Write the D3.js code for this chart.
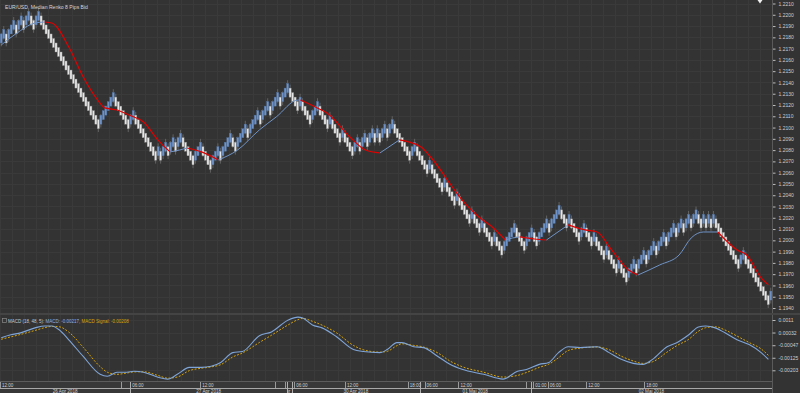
<!DOCTYPE html>
<html>
<head>
<meta charset="utf-8">
<script src="https://cdn.jsdelivr.net/npm/d3@7"></script>
<style>
  body { margin: 0; background: #333; }
  svg { display: block; font-family: "Liberation Sans", Arial, sans-serif; }
</style>
</head>
<body>
<svg id="chart" width="800" height="393"></svg>
<script>
// ---- data ----
const title = 'EUR/USD  Median Renko 8 Pips Bid';
const brickSize = 0.0008;   // 8 pips; each brick opens at the middle of the previous one
const startClose = 1.2179;

// runs of bricks: + up, - down (brick counts)
const runs = [2, -1, 3, -1, 2, -1, 2, -2, 2, -24, 6, -6, 2, -9,
  1, -1, 2, -1, 2, -1, 2, -5, 3, -4, 3, -1, 4, -2, 4, -1, 4, -1,
  3, -1, 3, -1, 3, -4, 1, -4, 3, -4, 1, -4, 1, -4,
  2, -1, 2, -1, 2, -1, 1, -1, 2, -1, 2, -7, 2,
  -5, 1, -5, 1, -4, 1, -5, 1, -3, 1, -4, 1, -3,
  5, -4, 3, -2, 4, -1, 4, -3, 1, -4, 2, -3, 1, -4, 1, -4, 1, -3,
  3, -1, 3, -1, 3, -1, 3, -1, 3, -1, 2, -1, 2, -1, 2,
  -2, 1, -1, 1, -1, 1, -10, 2, -10, 1];

const priceTicks = [1.2210, 1.2200, 1.2190, 1.2180, 1.2170, 1.2160, 1.2150, 1.2140, 1.2130,
  1.2120, 1.2110, 1.2100, 1.2090, 1.2080, 1.2070, 1.2060, 1.2050, 1.2040, 1.2030, 1.2020,
  1.2010, 1.2000, 1.1990, 1.1980, 1.1970, 1.1960, 1.1950, 1.1940];

// moving average on the bricks (slot index, price)
const maIdx = [0, 6, 14, 18, 21, 28, 34, 40, 43, 48, 53, 59, 65, 70, 74, 77, 83, 90, 98, 107,
  114, 123, 124, 131, 135, 145, 151, 157, 165, 174, 178, 187, 191, 198, 204, 209, 212, 215,
  221, 226, 235, 242, 247, 253, 260, 264, 273, 281, 286, 291, 297, 305, 309, 315, 318];
const maVal = [1.21732, 1.21830, 1.21927, 1.21936, 1.21927, 1.21714, 1.21448, 1.21244, 1.21174,
  1.21156, 1.21111, 1.21049, 1.20889, 1.20784, 1.20801, 1.20819, 1.20784, 1.20713, 1.20801,
  1.20979, 1.21094, 1.21244, 1.21244, 1.21174, 1.21129, 1.20907, 1.20801, 1.20775, 1.20890,
  1.20828, 1.20739, 1.20473, 1.20358, 1.20207, 1.20110, 1.20003, 1.20021, 1.20030, 1.20012,
  1.20003, 1.20137, 1.20092, 1.20074, 1.19915, 1.19737, 1.19693, 1.19782, 1.19870, 1.20021,
  1.20074, 1.20074, 1.19915, 1.19870, 1.19667, 1.19605];

// MACD (18, 48, 5)
const macdIdx = [0, 4, 8, 14, 18, 21, 24, 28, 34, 41, 44, 48, 52, 55, 59, 65, 69, 73, 78, 83,
  87, 91, 96, 100, 107, 112, 119, 123, 125, 129, 133, 139, 146, 150, 157, 160, 164, 166, 171,
  175, 181, 186, 191, 200, 208, 214, 218, 223, 227, 231, 235, 240, 247, 252, 257, 262, 266,
  270, 276, 280, 285, 289, 292, 296, 300, 305, 310, 315, 318];
const macdVal = [0.00000, 0.00018, 0.00030, 0.00061, 0.00073, 0.00073, 0.00049, -0.00013,
  -0.00117, -0.00228, -0.00240, -0.00215, -0.00215, -0.00209, -0.00215, -0.00246, -0.00258,
  -0.00228, -0.00185, -0.00185, -0.00178, -0.00154, -0.00093, -0.00086, 0.00012, 0.00036,
  0.00110, 0.00128, 0.00122, 0.00079, 0.00061, 0.00006, -0.00074, -0.00086, -0.00093,
  -0.00074, -0.00031, -0.00031, -0.00056, -0.00062, -0.00117, -0.00166, -0.00197, -0.00228,
  -0.00258, -0.00209, -0.00197, -0.00166, -0.00154, -0.00093, -0.00056, -0.00062, -0.00056,
  -0.00093, -0.00135, -0.00160, -0.00166, -0.00135, -0.00056, -0.00031, 0.00018, 0.00067,
  0.00073, 0.00061, 0.00030, -0.00013, -0.00043, -0.00093, -0.00135];
const signalVal = [-0.00010, 0.00005, 0.00020, 0.00045, 0.00062, 0.00070, 0.00068, 0.00035,
  -0.00060, -0.00180, -0.00215, -0.00228, -0.00220, -0.00213, -0.00212, -0.00235, -0.00252,
  -0.00245, -0.00205, -0.00190, -0.00182, -0.00168, -0.00120, -0.00095, -0.00030, 0.00015,
  0.00080, 0.00112, 0.00120, 0.00102, 0.00078, 0.00030, -0.00048, -0.00075, -0.00090,
  -0.00085, -0.00050, -0.00038, -0.00048, -0.00058, -0.00095, -0.00145, -0.00180, -0.00215,
  -0.00245, -0.00235, -0.00215, -0.00185, -0.00165, -0.00125, -0.00080, -0.00065, -0.00058,
  -0.00075, -0.00115, -0.00145, -0.00160, -0.00150, -0.00090, -0.00050, -0.00010, 0.00040,
  0.00062, 0.00068, 0.00048, 0.00010, -0.00030, -0.00070, -0.00110];
const macdTicks = [0.0011, 0.00032, -0.00047, -0.00125, -0.00203];
const macdTickLabels = ['0.0011', '0.00032', '-0.00047', '-0.00125', '-0.00203'];
const macdLegend = ['MACD (18, 48, 5): ', 'MACD: -0.00217', ', ', 'MACD Signal: -0.00208'];

// time axis (slot index)
const hourTicks = [[0, '12:00'], [50, ''], [54, '06:00'], [83, '12:00'], [114, ''], [118, ''],
  [122, '06:00'], [143, '12:00'], [169, '18:00'], [176, '06:00'], [190, '12:00'], [218, ''],
  [221, '01:00'], [227, '06:00'], [243, '12:00'], [267, '18:00']];
const dayStarts = [0, 54, 119, 121, 174, 220];
const dayLabels = ['26 Apr 2018', '27 Apr 2018', '28 Apr 2018', '30 Apr 2018', '01 Mai 2018', '02 Mai 2018'];
const slots = 320;

// ---- build median renko bricks from the runs ----
const bricks = [];
let prevClose = startClose, prevDir = 1;
runs.forEach(r => {
  const dir = Math.sign(r);
  for (let k = 0; k < Math.abs(r); k++) {
    const open = prevClose - prevDir * brickSize / 2;
    const close = open + dir * brickSize;
    bricks.push({
      dir: dir,
      lo: Math.min(open, close),
      hi: Math.max(open, close),
      first: k === 0,
      last: k === Math.abs(r) - 1
    });
    prevClose = close;
    prevDir = dir;
  }
});

// ---- layout ----
const W = 800, H = 393;
const plotR = 772;
const mainTop = 0, mainBottom = 313;
const macdTop = 315, macdBottom = 381;
const axisFont = 5;

const svg = d3.select('#chart');

svg.append('rect').attr('width', W).attr('height', H).attr('fill', '#333333');

// x runs over brick index; the time/indicator scale has the same span
const x = d3.scaleLinear().domain([0, bricks.length]).range([0, plotR]);
const xt = d3.scaleLinear().domain([0, slots]).range([0, plotR]);
const y = d3.scaleLinear().domain([1.1940, 1.2210]).range([308, 3.5]);
const ym = d3.scaleLinear().domain([-0.00203, 0.0011]).range([370.3, 320]);

const defs = svg.append('defs');
defs.append('clipPath').attr('id', 'clipMain')
  .append('rect').attr('x', 0).attr('y', mainTop).attr('width', plotR).attr('height', mainBottom - mainTop);
defs.append('clipPath').attr('id', 'clipMacd')
  .append('rect').attr('x', 0).attr('y', macdTop).attr('width', plotR).attr('height', macdBottom - macdTop);

// grid
const gridX = d3.range(0, slots, 5);
const grid = svg.append('g').attr('stroke', '#3a3a3a').attr('stroke-width', 1).attr('shape-rendering', 'crispEdges');
grid.selectAll('.gx').data(gridX).join('line')
  .attr('x1', d => Math.round(xt(d)) + 0.5).attr('x2', d => Math.round(xt(d)) + 0.5)
  .attr('y1', mainTop).attr('y2', macdBottom);
grid.selectAll('.gy').data(priceTicks).join('line')
  .attr('x1', 0).attr('x2', plotR)
  .attr('y1', d => Math.round(y(d)) + 0.5).attr('y2', d => Math.round(y(d)) + 0.5);
grid.selectAll('.gm').data(macdTicks).join('line')
  .attr('x1', 0).attr('x2', plotR)
  .attr('y1', d => Math.round(ym(d)) + 0.5).attr('y2', d => Math.round(ym(d)) + 0.5);

// bricks
const main = svg.append('g').attr('clip-path', 'url(#clipMain)');
const pitch = x(1) - x(0);

// wicks at run turns
main.append('g').selectAll('line').data(bricks.map((b, i) => ({ b, i })).filter(d => d.b.first || d.b.last))
  .join('line')
  .attr('x1', d => x(d.i + 0.5)).attr('x2', d => x(d.i + 0.5))
  .attr('y1', d => y(d.b.hi + ((d.b.last && d.b.dir > 0) || (d.b.first && d.b.dir < 0) ? 0.0003 : 0.0001)))
  .attr('y2', d => y(d.b.lo - ((d.b.last && d.b.dir < 0) || (d.b.first && d.b.dir > 0) ? 0.0003 : 0.0001)))
  .attr('stroke', '#6e6e6e').attr('stroke-width', 0.8);

main.append('g').selectAll('rect').data(bricks).join('rect')
  .attr('x', (d, i) => x(i) + 0.2)
  .attr('width', pitch - 0.4)
  .attr('y', d => y(d.hi))
  .attr('height', d => y(d.lo) - y(d.hi))
  .attr('fill', d => d.dir > 0 ? '#6f93c6' : '#e6e6e6')
  .attr('stroke', d => d.dir > 0 ? '#52729f' : '#8c8c8c')
  .attr('stroke-width', 0.4);

// moving average, coloured by direction
const maPts = maIdx.map((d, i) => ({ i: d, v: maVal[i] }));
const segs = [];
for (let k = 0; k < maPts.length - 1; k++) {
  const up = maPts[k + 1].v >= maPts[k].v;
  const last = segs[segs.length - 1];
  if (last && last.up === up) last.pts.push(maPts[k + 1]);
  else segs.push({ up, pts: [maPts[k], maPts[k + 1]] });
}
const maLine = d3.line().x(d => xt(d.i + 0.5)).y(d => y(d.v)).curve(d3.curveMonotoneX);
main.append('g').selectAll('path').data(segs).join('path')
  .attr('d', d => maLine(d.pts))
  .attr('fill', 'none')
  .attr('stroke', d => d.up ? '#6f93c6' : '#e00000')
  .attr('stroke-width', d => d.up ? 1 : 1.2);

// title
svg.append('text').attr('x', 5).attr('y', 8.5).attr('font-size', 5.1).attr('fill', '#d8d8d8')
  .attr('xml:space', 'preserve').text(title);

// price axis
const yAxis = d3.axisRight(y).tickValues(priceTicks).tickFormat(d3.format('.4f')).tickSize(3).tickPadding(3);
const ya = svg.append('g').attr('transform', `translate(${plotR + 0.5},0)`).call(yAxis);
ya.select('.domain').remove();
ya.selectAll('line').attr('stroke', '#bdbdbd');
ya.selectAll('text').attr('fill', '#cfcfcf').attr('font-size', axisFont).attr('font-family', '"Liberation Sans", Arial, sans-serif');

// axis line and panel separators
svg.append('line').attr('x1', plotR + 0.5).attr('x2', plotR + 0.5).attr('y1', 0).attr('y2', H)
  .attr('stroke', '#5a5a5a');
svg.append('rect').attr('x', 0).attr('y', mainBottom).attr('width', W).attr('height', macdTop - mainBottom)
  .attr('fill', '#444');

// marker at top right
svg.append('path').attr('d', 'M757.5,0 L762.5,0 L760,3.5 Z').attr('fill', '#f0f0f0');

// ---- MACD panel ----
const macdG = svg.append('g').attr('clip-path', 'url(#clipMacd)');
const mLine = d3.line().x(d => xt(d.i + 0.5)).y(d => ym(d.v)).curve(d3.curveMonotoneX);
macdG.append('path')
  .attr('d', mLine(macdIdx.map((d, i) => ({ i: d, v: signalVal[i] }))))
  .attr('fill', 'none').attr('stroke', '#d6a40c').attr('stroke-width', 1)
  .attr('stroke-dasharray', '2,1.5');
macdG.append('path')
  .attr('d', mLine(macdIdx.map((d, i) => ({ i: d, v: macdVal[i] }))))
  .attr('fill', 'none').attr('stroke', '#7fa5d8').attr('stroke-width', 1.1);

const ymAxis = d3.axisRight(ym).tickValues(macdTicks).tickFormat((d, i) => macdTickLabels[i]).tickSize(3).tickPadding(3);
const yma = svg.append('g').attr('transform', `translate(${plotR + 0.5},0)`).call(ymAxis);
yma.select('.domain').remove();
yma.selectAll('line').attr('stroke', '#bdbdbd');
yma.selectAll('text').attr('fill', '#cfcfcf').attr('font-size', axisFont).attr('font-family', '"Liberation Sans", Arial, sans-serif');

// legend
svg.append('rect').attr('x', 2.5).attr('y', 318.5).attr('width', 4).attr('height', 4)
  .attr('fill', 'none').attr('stroke', '#8a8a8a').attr('stroke-width', 0.7);
const legColors = ['#c8c8c8', '#8fb0e0', '#c8c8c8', '#d8a40a'];
const leg = svg.append('text').attr('x', 8).attr('y', 322.5).attr('font-size', 4.5).attr('xml:space', 'preserve');
leg.selectAll('tspan').data(macdLegend).join('tspan').attr('fill', (d, i) => legColors[i]).text(d => d);

// ---- time axis ----
const ta = svg.append('g');
ta.append('rect').attr('x', 0).attr('y', macdBottom).attr('width', plotR).attr('height', H - macdBottom).attr('fill', '#383838');
ta.append('line').attr('x1', 0).attr('x2', plotR).attr('y1', macdBottom + 0.5).attr('y2', macdBottom + 0.5).attr('stroke', '#5c5c5c');
ta.append('line').attr('x1', 0).attr('x2', plotR).attr('y1', 388.5).attr('y2', 388.5).attr('stroke', '#a8a8a8');
ta.selectAll('.ht').data(hourTicks).join('line')
  .attr('x1', d => Math.round(xt(d[0])) + 0.5).attr('x2', d => Math.round(xt(d[0])) + 0.5)
  .attr('y1', macdBottom + 1).attr('y2', 388)
  .attr('stroke', '#9a9a9a');
ta.selectAll('.hl').data(hourTicks.filter(d => d[1])).join('text')
  .attr('x', d => xt(d[0]) + 2).attr('y', 386.8).attr('font-size', 4.5).attr('fill', '#cfcfcf')
  .text(d => d[1]);
ta.selectAll('.dl').data(dayStarts.slice(1)).join('line')
  .attr('x1', d => Math.round(xt(d)) + 0.5).attr('x2', d => Math.round(xt(d)) + 0.5)
  .attr('y1', macdBottom + 1).attr('y2', H)
  .attr('stroke', '#b0b0b0');
dayStarts.forEach((s, i) => {
  const e = i < dayStarts.length - 1 ? dayStarts[i + 1] : slots;
  const id = 'dclip' + i;
  defs.append('clipPath').attr('id', id).append('rect')
    .attr('x', xt(s) + 1).attr('y', 388).attr('width', Math.max(0, xt(e) - xt(s) - 1)).attr('height', 6);
  ta.append('text').attr('clip-path', `url(#${id})`)
    .attr('x', (xt(s) + xt(e)) / 2).attr('y', 393).attr('text-anchor', 'middle')
    .attr('font-size', 4.6).attr('fill', '#cfcfcf').text(dayLabels[i]);
});
</script>
</body>
</html>
